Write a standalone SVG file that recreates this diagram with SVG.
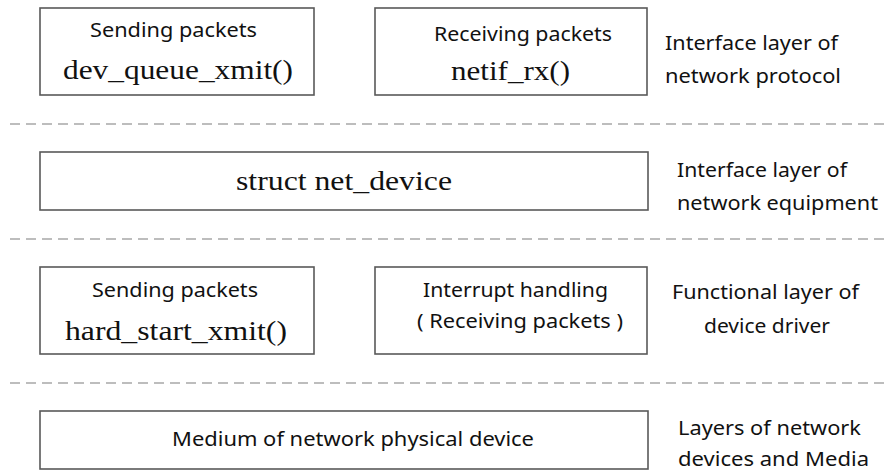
<svg xmlns="http://www.w3.org/2000/svg" width="887" height="472" viewBox="0 0 887 472">
<style>
.box{fill:#fff;stroke:#595959;stroke-width:1.6}
.s{font-family:"Noto Sans","Open Sans","DejaVu Sans",sans-serif;font-size:20px;fill:#111}
.m{font-family:"Liberation Serif","Times New Roman",serif;font-size:28px;fill:#111}
.d{stroke:#bdbdbd;stroke-width:2;stroke-dasharray:10 6;fill:none}
</style>
<rect width="887" height="472" fill="#fff"/>
<g id="separators">
<line class="d" x1="10" y1="124" x2="887" y2="124"/>
<line class="d" x1="10" y1="239" x2="887" y2="239"/>
<line class="d" x1="10" y1="383" x2="887" y2="383"/>
</g>
<g id="connectors"></g>
<g id="n1">
<rect class="box" x="40" y="8" width="274" height="87"/>
<text class="s" x="90" y="37" textLength="167" lengthAdjust="spacingAndGlyphs">Sending packets</text>
<text class="m" x="63" y="79" textLength="230" lengthAdjust="spacingAndGlyphs">dev_queue_xmit()</text>
</g>
<g id="n2">
<rect class="box" x="375" y="8" width="272" height="87"/>
<text class="s" x="434" y="41" textLength="178" lengthAdjust="spacingAndGlyphs">Receiving packets</text>
<text class="m" x="451" y="80" textLength="119" lengthAdjust="spacingAndGlyphs">netif_rx()</text>
</g>
<g id="l1">
<text class="s" x="665" y="50" textLength="173" lengthAdjust="spacingAndGlyphs">Interface layer of</text>
<text class="s" x="665" y="83" textLength="176" lengthAdjust="spacingAndGlyphs">network protocol</text>
</g>
<g id="n3">
<rect class="box" x="40" y="152" width="608" height="58"/>
<text class="m" x="236" y="190" textLength="216" lengthAdjust="spacingAndGlyphs">struct net_device</text>
</g>
<g id="l2">
<text class="s" x="677" y="177" textLength="170" lengthAdjust="spacingAndGlyphs">Interface layer of</text>
<text class="s" x="677" y="210" textLength="201" lengthAdjust="spacingAndGlyphs">network equipment</text>
</g>
<g id="n4">
<rect class="box" x="40" y="267" width="274" height="87"/>
<text class="s" x="92" y="297" textLength="166" lengthAdjust="spacingAndGlyphs">Sending packets</text>
<text class="m" x="65" y="340" textLength="222" lengthAdjust="spacingAndGlyphs">hard_start_xmit()</text>
</g>
<g id="n5">
<rect class="box" x="375" y="267" width="272" height="87"/>
<text class="s" x="423" y="297" textLength="185" lengthAdjust="spacingAndGlyphs">Interrupt handling</text>
<text class="s" x="417" y="328" textLength="206" lengthAdjust="spacingAndGlyphs">( Receiving packets )</text>
</g>
<g id="l3">
<text class="s" x="672" y="299" textLength="187" lengthAdjust="spacingAndGlyphs">Functional layer of</text>
<text class="s" x="704" y="333" textLength="126" lengthAdjust="spacingAndGlyphs">device driver</text>
</g>
<g id="n6">
<rect class="box" x="40" y="411" width="608" height="58"/>
<text class="s" x="172" y="446" textLength="362" lengthAdjust="spacingAndGlyphs">Medium of network physical device</text>
</g>
<g id="l4">
<text class="s" x="678" y="435" textLength="183" lengthAdjust="spacingAndGlyphs">Layers of network</text>
<text class="s" x="678" y="466" textLength="191" lengthAdjust="spacingAndGlyphs">devices and Media</text>
</g>
</svg>
